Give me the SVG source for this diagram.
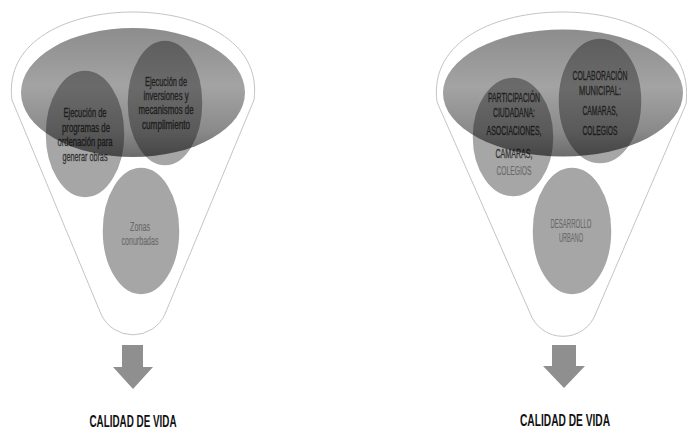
<svg xmlns="http://www.w3.org/2000/svg" width="687" height="431" viewBox="0 0 687 431">
<style>
.funnel{fill:#ffffff;stroke:#c4c4c4;stroke-width:1}
.node{fill:#a6a6a6;stroke:#ffffff;stroke-width:1.5}
.ov{fill:url(#ovg)}
.t{font-family:"Liberation Sans",Arial,sans-serif;font-size:12.5px;fill:#333333;text-anchor:middle;stroke:#333333;stroke-width:0.3}
.t2{font-family:"Liberation Sans",Arial,sans-serif;font-size:12.5px;fill:#6a6a6a;text-anchor:middle;stroke:#6a6a6a;stroke-width:0.15}
.arrow{fill:#8f8f8f}
.cal{font-family:"Liberation Sans",Arial,sans-serif;font-weight:bold;font-size:16px;fill:#111;text-anchor:middle}
</style>
<defs>
<linearGradient id="ovg" x1="0" y1="0" x2="0" y2="1">
<stop offset="0" stop-color="#000" stop-opacity="0.45"/>
<stop offset="0.45" stop-color="#000" stop-opacity="0.36"/>
<stop offset="0.8" stop-color="#000" stop-opacity="0.46"/>
<stop offset="1" stop-color="#000" stop-opacity="0.58"/>
</linearGradient>
</defs>

<!-- LEFT FUNNEL -->
<g id="funnel-left">
<path class="funnel" d="M12,100 C4,40 70,12 133,12 C196,12 262,40 254,100 L165,314 A35,35 0 0 1 101,314 Z"/>
</g>
<g id="node-programas">
<ellipse class="node" cx="85" cy="134" rx="40" ry="64"/>
<text class="t" x="85" y="117" textLength="43" lengthAdjust="spacingAndGlyphs">Ejecución de</text>
<text class="t" x="86" y="132" textLength="48" lengthAdjust="spacingAndGlyphs">programas de</text>
<text class="t" x="85" y="146" textLength="55" lengthAdjust="spacingAndGlyphs">ordenación para</text>
<text class="t" x="85" y="161" textLength="45" lengthAdjust="spacingAndGlyphs">generar obras</text>
</g>
<g id="node-inversiones">
<ellipse class="node" cx="165" cy="103" rx="38" ry="63"/>
<text class="t" x="166" y="86" textLength="42" lengthAdjust="spacingAndGlyphs">Ejecución de</text>
<text class="t" x="166" y="100" textLength="45" lengthAdjust="spacingAndGlyphs">inversiones y</text>
<text class="t" x="166" y="114" textLength="55" lengthAdjust="spacingAndGlyphs">mecanismos de</text>
<text class="t" x="166" y="129" textLength="48" lengthAdjust="spacingAndGlyphs">cumplimiento</text>
</g>
<g id="node-zonas">
<ellipse class="node" cx="141" cy="231" rx="39" ry="64"/>
<text class="t2" x="140" y="231" textLength="20" lengthAdjust="spacingAndGlyphs">Zonas</text>
<text class="t2" x="140" y="245" textLength="37" lengthAdjust="spacingAndGlyphs">conurbadas</text>
</g>
<g id="top-left">
<ellipse class="ov" cx="133" cy="92.5" rx="112" ry="64.5"/>
</g>
<g id="arrow-left">
<polygon class="arrow" points="122,345 143,345 143,367 153,367 133,389 113,367 122,367"/>
</g>
<g id="result-left">
<text class="cal" x="133" y="427" textLength="87" lengthAdjust="spacingAndGlyphs">CALIDAD DE VIDA</text>
</g>

<!-- RIGHT FUNNEL -->
<g id="funnel-right">
<path class="funnel" d="M437,102 C429,40 497,12 562,12 C628,12 694,40 686,104 L596,313 A35,35 0 0 1 530,313 Z"/>
</g>
<g id="node-participacion">
<ellipse class="node" cx="513" cy="137" rx="41" ry="60"/>
<text class="t" x="514" y="102" textLength="52" lengthAdjust="spacingAndGlyphs">PARTICIPACIÓN</text>
<text class="t" x="514" y="117" textLength="42" lengthAdjust="spacingAndGlyphs">CIUDADANA:</text>
<text class="t" x="514" y="135" textLength="55" lengthAdjust="spacingAndGlyphs">ASOCIACIONES,</text>
<text class="t" x="514" y="158" textLength="37" lengthAdjust="spacingAndGlyphs">CAMARAS,</text>
<text class="t2" x="514" y="175" textLength="35" lengthAdjust="spacingAndGlyphs">COLEGIOS</text>
</g>
<g id="node-colaboracion">
<ellipse class="node" cx="600" cy="101" rx="42" ry="63"/>
<text class="t" x="600" y="80" textLength="55" lengthAdjust="spacingAndGlyphs">COLABORACIÓN</text>
<text class="t" x="600" y="95" textLength="42" lengthAdjust="spacingAndGlyphs">MUNICIPAL:</text>
<text class="t" x="600" y="115" textLength="35" lengthAdjust="spacingAndGlyphs">CAMARAS,</text>
<text class="t" x="600" y="135" textLength="35" lengthAdjust="spacingAndGlyphs">COLEGIOS</text>
</g>
<g id="node-desarrollo">
<ellipse class="node" cx="572" cy="231" rx="40" ry="64"/>
<text class="t2" x="571" y="228" textLength="41" lengthAdjust="spacingAndGlyphs">DESARROLLO</text>
<text class="t2" x="571" y="242" textLength="24" lengthAdjust="spacingAndGlyphs">URBANO</text>
</g>
<g id="top-right">
<ellipse class="ov" cx="563" cy="93" rx="120" ry="63.5"/>
</g>
<g id="arrow-right">
<polygon class="arrow" points="552,345 576,345 576,366 585,366 564,388 543,366 552,366"/>
</g>
<g id="result-right">
<text class="cal" x="565" y="426" textLength="90" lengthAdjust="spacingAndGlyphs">CALIDAD DE VIDA</text>
</g>
<g id="connectors"></g>
</svg>
